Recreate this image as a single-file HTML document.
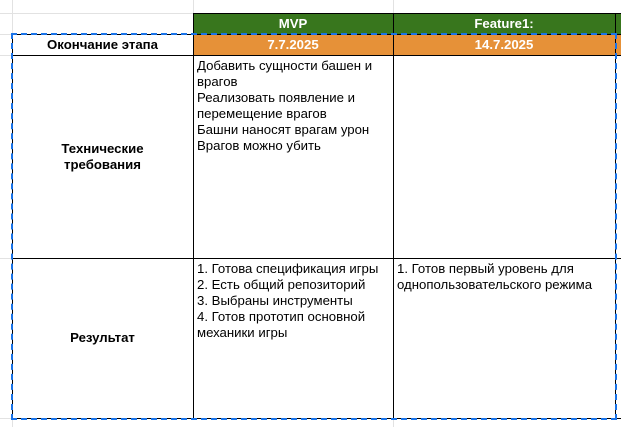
<!DOCTYPE html>
<html><head><meta charset="utf-8"><style>
body{margin:0;width:621px;height:427px;background:#fff;position:relative;overflow:hidden;font-family:"Liberation Sans",sans-serif;font-size:13.2px;color:#000}
.a{position:absolute;box-sizing:border-box}
.g{background:#e2e2e2}
.k{background:#000}
.c{display:flex;align-items:center;justify-content:center;text-align:center;font-weight:bold;line-height:16px}
.t{line-height:16px;padding:3px 0 0 4px}
</style></head><body>
<div class="a g" style="left:12px;top:0;width:1px;height:427px"></div>
<div class="a g" style="left:193px;top:0;width:1px;height:13px"></div>
<div class="a g" style="left:393px;top:0;width:1px;height:427px"></div>
<div class="a g" style="left:0;top:13px;width:621px;height:1px"></div>
<div class="a g" style="left:0;top:34px;width:193px;height:1px"></div>
<div class="a g" style="left:0;top:55px;width:12px;height:1px"></div>
<div class="a g" style="left:0;top:258px;width:12px;height:1px"></div>
<div class="a g" style="left:0;top:418px;width:621px;height:1px"></div>
<div class="a c" style="left:193px;top:13px;width:428px;height:21px;background:#38761d;color:#fff"></div>
<div class="a c" style="left:193px;top:13px;width:200px;height:21px;color:#fff">MVP</div>
<div class="a c" style="left:393px;top:13px;width:222px;height:21px;color:#fff">Feature1:</div>
<div class="a" style="left:193px;top:34px;width:428px;height:21px;background:#e69138"></div>
<div class="a c" style="left:193px;top:34px;width:200px;height:21px;color:#fff">7.7.2025</div>
<div class="a c" style="left:393px;top:34px;width:222px;height:21px;color:#fff">14.7.2025</div>
<div class="a c" style="left:12px;top:34px;width:181px;height:21px">Окончание этапа</div>
<div class="a c" style="left:12px;top:55px;width:181px;height:204px">Технические<br>требования</div>
<div class="a c" style="left:12px;top:258px;width:181px;height:160px">Результат</div>
<div class="a t" style="left:193px;top:55px;width:200px">Добавить сущности башен и<br>врагов<br>Реализовать появление и<br>перемещение врагов<br>Башни наносят врагам урон<br>Врагов можно убить</div>
<div class="a t" style="left:193px;top:258px;width:200px">1. Готова спецификация игры<br>2. Есть общий репозиторий<br>3. Выбраны инструменты<br>4. Готов прототип основной<br>механики игры</div>
<div class="a t" style="left:393px;top:258px;width:222px">1. Готов первый уровень для<br>однопользовательского режима</div>
<div class="a k" style="left:193px;top:13px;width:428px;height:1px"></div>
<div class="a k" style="left:12px;top:34px;width:609px;height:1px"></div>
<div class="a k" style="left:12px;top:55px;width:609px;height:1px"></div>
<div class="a k" style="left:12px;top:258px;width:609px;height:1px"></div>
<div class="a k" style="left:12px;top:418px;width:609px;height:1px"></div>
<div class="a k" style="left:193px;top:13px;width:1px;height:406px"></div>
<div class="a k" style="left:393px;top:13px;width:1px;height:406px"></div>
<div class="a k" style="left:615px;top:13px;width:1px;height:406px"></div>
<div class="a k" style="left:12px;top:34px;width:1px;height:385px"></div>
<div class="a" style="left:11px;top:33px;width:606px;height:387px;border:2px dashed #1a73e8"></div>
</body></html>
